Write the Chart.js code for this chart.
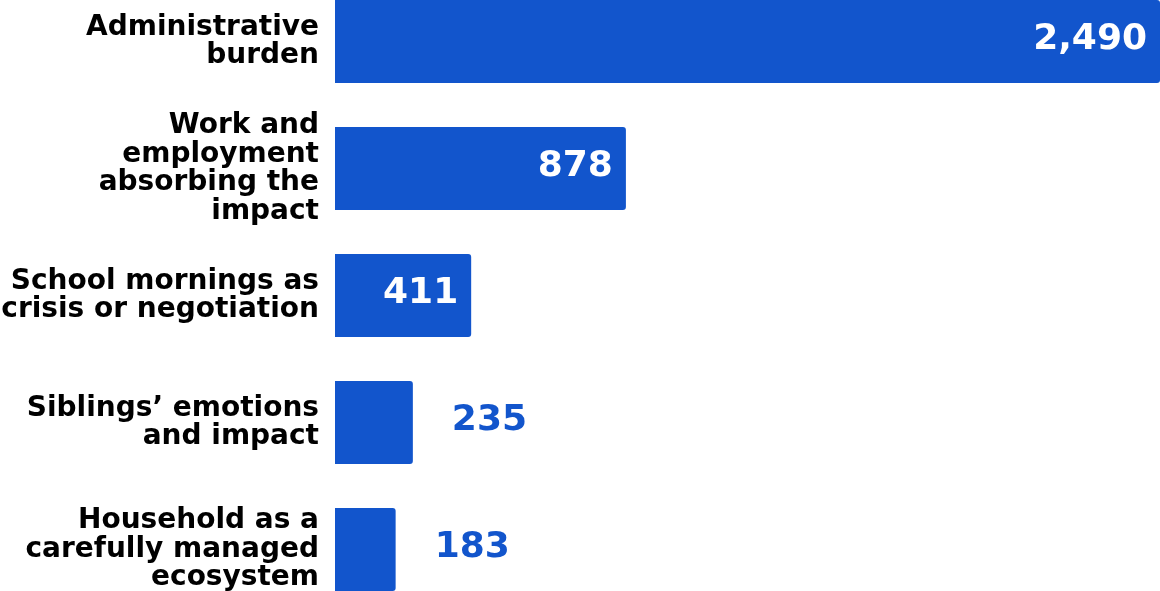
<!DOCTYPE html>
<html>
<head>
  <title>Themes</title>
  <meta name="viewport" content="width=device-width, initial-scale=1.0">
  <style>
    html, body {
      margin: 0;
      padding: 0;
      background: #fff;
      overflow: hidden;
    }
    .frame {
      position: relative;
      width: 1160px;
      height: 591px;
      overflow: hidden;
    }
    /* plot runs a little past the top and bottom edges of the frame */
    .wrap {
      position: absolute;
      left: 0;
      top: -22px;
      width: 1160px;
      height: 635px;
    }
  </style>
</head>
<body>
  <div class="frame">
    <div class="wrap">
      <canvas id="themeChart"></canvas>
    </div>
  </div>

  <script src="https://cdn.jsdelivr.net/npm/chart.js"></script>
  <script>
    // theme names (one entry per line of the label) and mention counts
    const themes = [
      ["Administrative", "burden"],
      ["Work and", "employment", "absorbing the", "impact"],
      ["School mornings as", "crisis or negotiation"],
      ["Siblings\u2019 emotions", "and impact"],
      ["Household as a", "carefully managed", "ecosystem"]
    ];
    const counts = [2490, 878, 411, 235, 183];

    const barBlue = "#1255cc";
    const fontFamily = "'DejaVu Sans', Verdana, sans-serif";

    // value labels: white inside the bar if it fits, otherwise blue just past the end
    const valueLabels = {
      id: "valueLabels",
      afterDatasetsDraw(chart) {
        const ctx = chart.ctx;
        const meta = chart.getDatasetMeta(0);
        ctx.save();
        ctx.font = "bold 36px " + fontFamily;
        ctx.textBaseline = "middle";
        meta.data.forEach((bar, i) => {
          const text = counts[i].toLocaleString("en-US");
          const w = ctx.measureText(text).width;
          const barW = bar.x - bar.base;
          if (barW >= w + 28) {
            ctx.fillStyle = "#fff";
            ctx.textAlign = "right";
            ctx.fillText(text, bar.x - 13, bar.y - 2);
          } else {
            ctx.fillStyle = barBlue;
            ctx.textAlign = "left";
            ctx.fillText(text, bar.x + 39, bar.y - 2);
          }
        });
        ctx.restore();
      }
    };

    new Chart(document.getElementById("themeChart"), {
      type: "bar",
      data: {
        labels: themes,
        datasets: [{
          data: counts,
          backgroundColor: barBlue,
          borderRadius: 3,
          borderSkipped: "start",
          categoryPercentage: 0.655,
          barPercentage: 1
        }]
      },
      options: {
        indexAxis: "y",
        responsive: true,
        maintainAspectRatio: false,
        animation: false,
        layout: { padding: 0 },
        plugins: {
          legend: { display: false },
          tooltip: { enabled: false }
        },
        scales: {
          x: {
            display: false,
            min: 0,
            max: 2490
          },
          y: {
            afterFit(scale) {
              // fixed gutter for the labels, no extra room above/below for tall labels
              scale.width = 335;
              scale.paddingTop = 0;
              scale.paddingBottom = 0;
            },
            grid: { display: false, drawTicks: false },
            border: { display: false },
            ticks: {
              autoSkip: false,
              padding: 16,
              color: "#000",
              font: { family: fontFamily, weight: "bold", size: 28, lineHeight: 1.02 }
            }
          }
        }
      },
      plugins: [valueLabels]
    });
  </script>
</body>
</html>
